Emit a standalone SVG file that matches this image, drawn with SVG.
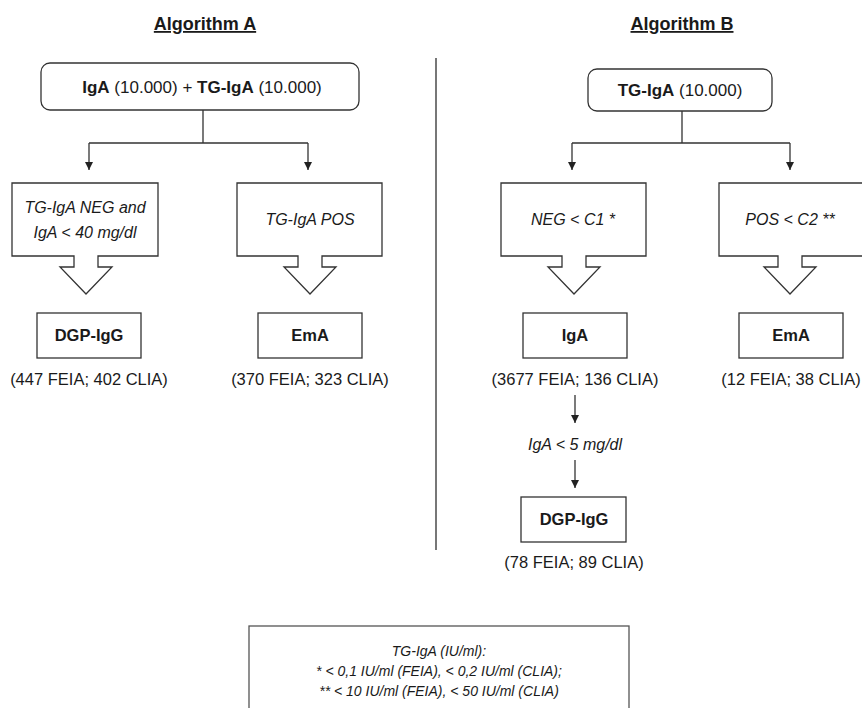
<svg xmlns="http://www.w3.org/2000/svg" width="862" height="708" viewBox="0 0 862 708">
<defs>
<style>
text{font-family:"Liberation Sans",Arial,sans-serif;fill:#1a1a1a;text-anchor:middle}
.t{font-size:18px;font-weight:bold;text-decoration:underline}
.top{font-size:17px}
.b{font-weight:bold}
.box{fill:#fff;stroke:#333;stroke-width:1.3}
.lbl{font-size:16.5px}
.it{font-size:16px;font-style:italic}
.bt{font-size:16.5px;font-weight:bold}
.ln{fill:none;stroke:#333;stroke-width:1.3}
.leg{font-size:14px;font-style:italic}
</style>
<marker id="ah" viewBox="0 0 10 10" refX="10" refY="5" markerWidth="8" markerHeight="8" markerUnits="userSpaceOnUse" orient="auto">
<path d="M0,0 L10,5 L0,10 Z" fill="#222"/>
</marker>
</defs>
<rect width="862" height="708" fill="#fff"/>

<text class="t" x="205" y="30">Algorithm A</text>
<text class="t" x="682" y="30">Algorithm B</text>

<line x1="436" y1="58" x2="436" y2="550" stroke="#777" stroke-width="2"/>

<g id="connectors">
<path class="ln" d="M203,110 V143 M89,143 H308 M682,111 V143 M572,143 H790"/>
<line class="ln" x1="89" y1="143" x2="89" y2="170" marker-end="url(#ah)"/>
<line class="ln" x1="308" y1="143" x2="308" y2="170" marker-end="url(#ah)"/>
<line class="ln" x1="572" y1="143" x2="572" y2="170" marker-end="url(#ah)"/>
<line class="ln" x1="790" y1="143" x2="790" y2="170" marker-end="url(#ah)"/>
<line class="ln" x1="575" y1="395" x2="575" y2="423" marker-end="url(#ah)"/>
<line class="ln" x1="575" y1="460" x2="575" y2="488" marker-end="url(#ah)"/>
</g>

<g id="topA">
<rect class="box" x="41" y="63" width="318" height="47" rx="9"/>
<text class="top" x="202" y="93"><tspan class="b">IgA</tspan>  (10.000) + <tspan class="b">TG-IgA</tspan> (10.000)</text>
</g>
<g id="topB">
<rect class="box" x="588" y="69" width="184" height="42" rx="9"/>
<text class="top" x="680" y="96"><tspan class="b">TG-IgA</tspan> (10.000)</text>
</g>

<g id="condA1">
<path class="box" d="M12,183 H158 V256 H98 V267 H112 L86,294 L60,267 H74 V256 H12 Z"/>
<text class="it" x="85" y="213">TG-IgA NEG and</text>
<text class="it" x="85" y="238">IgA &lt; 40 mg/dl</text>
</g>
<g id="condA2">
<path class="box" d="M237,183 H382 V256 H322 V267 H336 L310,294 L284,267 H298 V256 H237 Z"/>
<text class="it" x="310" y="225">TG-IgA POS</text>
</g>
<g id="condB1">
<path class="box" d="M501,183 H646 V256 H586 V267 H600 L574,294 L548,267 H562 V256 H501 Z"/>
<text class="it" x="573" y="225">NEG &lt; C1 *</text>
</g>
<g id="condB2">
<path class="box" d="M719,183 H870 V256 H802 V267 H816 L790,294 L764,267 H778 V256 H719 Z"/>
<text class="it" x="790" y="225">POS &lt; C2 **</text>
</g>

<g id="dgpA">
<rect class="box" x="37" y="313" width="104" height="45"/>
<text class="bt" x="89" y="341">DGP-IgG</text>
<text class="lbl" x="89" y="385">(447 FEIA; 402 CLIA)</text>
</g>
<g id="emaA">
<rect class="box" x="258" y="313" width="104" height="45"/>
<text class="bt" x="310" y="341">EmA</text>
<text class="lbl" x="310" y="385">(370 FEIA; 323 CLIA)</text>
</g>
<g id="igaB">
<rect class="box" x="523" y="313" width="104" height="45"/>
<text class="bt" x="575" y="341">IgA</text>
<text class="lbl" x="575" y="385">(3677 FEIA; 136 CLIA)</text>
</g>
<g id="emaB">
<rect class="box" x="739" y="313" width="104" height="45"/>
<text class="bt" x="791" y="341">EmA</text>
<text class="lbl" x="791" y="385">(12 FEIA; 38 CLIA)</text>
</g>
<g id="condB3">
<text class="it" x="575" y="450">IgA &lt; 5 mg/dl</text>
</g>
<g id="dgpB">
<rect class="box" x="521" y="497" width="105" height="45"/>
<text class="bt" x="574" y="525">DGP-IgG</text>
<text class="lbl" x="574" y="568">(78 FEIA; 89 CLIA)</text>
</g>

<g id="legend">
<rect x="249" y="626" width="380" height="100" fill="#fff" stroke="#555" stroke-width="1.3"/>
<text class="leg" x="439" y="656">TG-IgA (IU/ml):</text>
<text class="leg" x="439" y="676">* &lt; 0,1 IU/ml (FEIA), &lt; 0,2 IU/ml (CLIA);</text>
<text class="leg" x="439" y="696">** &lt; 10 IU/ml (FEIA), &lt; 50 IU/ml (CLIA)</text>
</g>
</svg>
